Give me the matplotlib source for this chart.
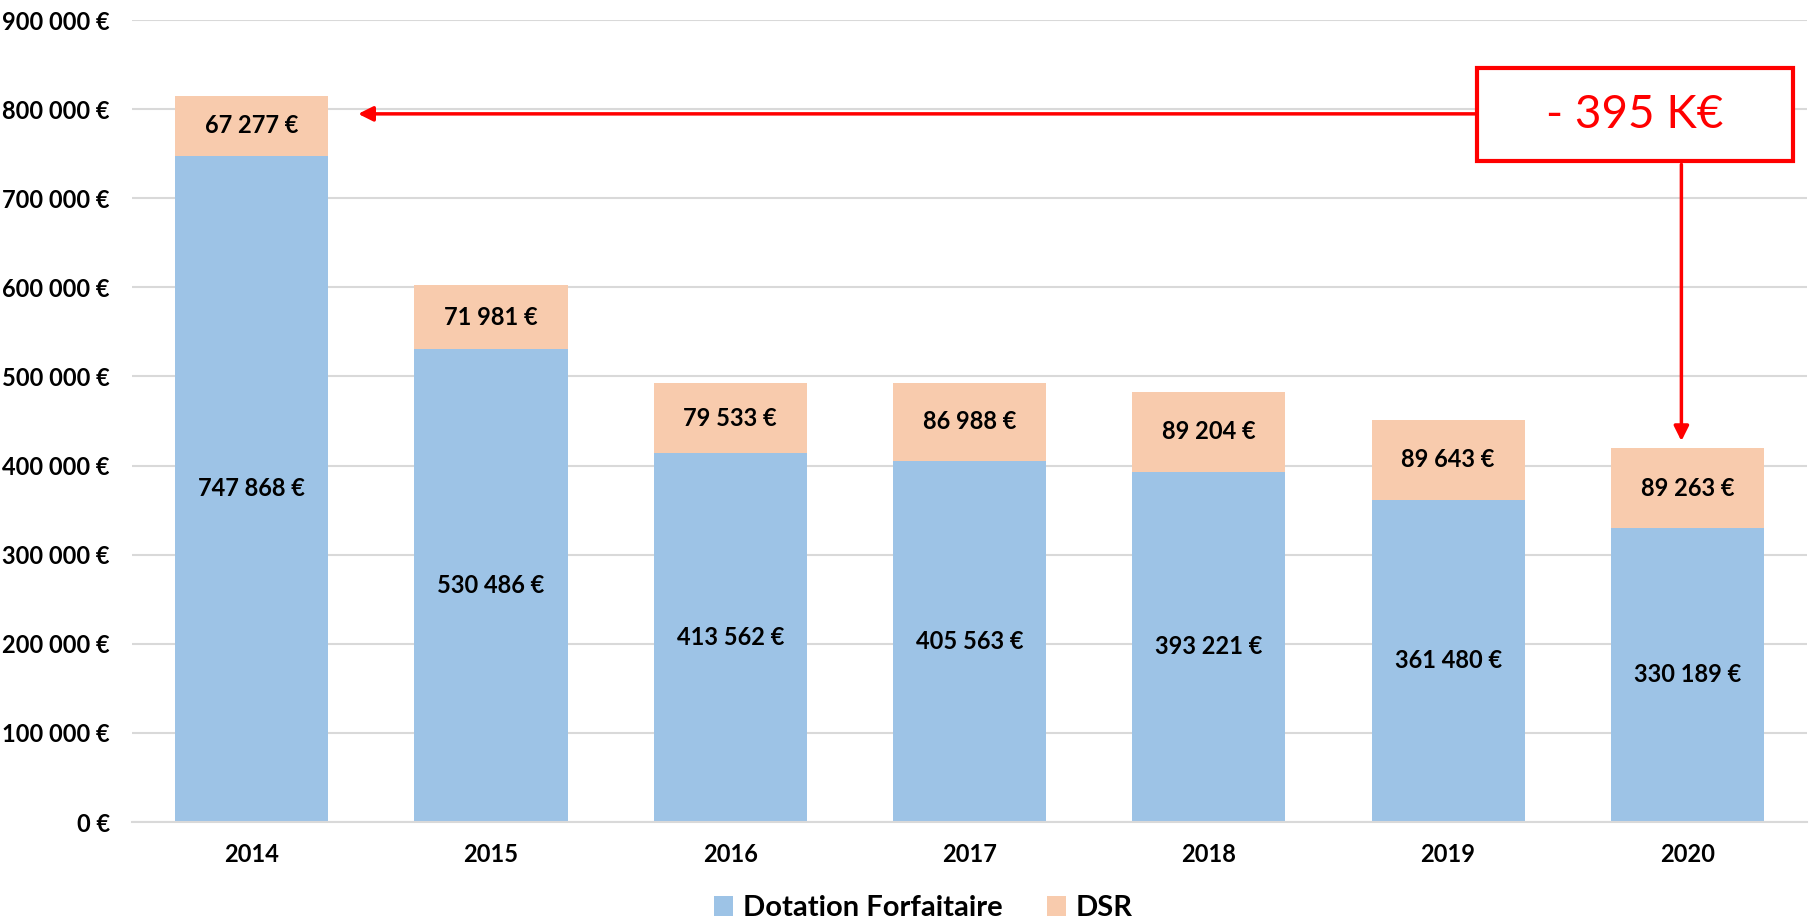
import matplotlib
matplotlib.use("Agg")
import matplotlib.pyplot as plt
import matplotlib.patches as mpatches
from matplotlib.ticker import FuncFormatter, MultipleLocator

# data
years = ["2014", "2015", "2016", "2017", "2018", "2019", "2020"]
dotation = [747868, 530486, 413562, 405563, 393221, 361480, 330189]
dsr = [67277, 71981, 79533, 86988, 89204, 89643, 89263]
delta_label = "- 395 K€"

BLUE = "#9DC3E6"
PEACH = "#F8CBAD"
RED = "#FF0000"
GRID = "#D9D9D9"

plt.rcParams["font.family"] = ["Lato", "DejaVu Sans"]


def euro(v):
    return f"{int(v):,}".replace(",", " ") + " €"


fig = plt.figure(figsize=(18.11, 9.23), dpi=100)
ax = fig.add_axes([0.0729, 0.1094, 0.9249, 0.8689])

x = range(len(years))
b1 = ax.bar(x, dotation, width=0.64, color=BLUE, label="Dotation Forfaitaire", zorder=2)
b2 = ax.bar(x, dsr, width=0.64, bottom=dotation, color=PEACH, label="DSR", zorder=2)

ax.bar_label(b1, labels=[euro(v) for v in dotation], label_type="center",
             fontsize=17, fontweight="bold", color="black")
ax.bar_label(b2, labels=[euro(v) for v in dsr], label_type="center",
             fontsize=17, fontweight="bold", color="black")

ax.set_xlim(-0.5, len(years) - 0.5)
ax.set_ylim(0, 900000)
ax.yaxis.set_major_locator(MultipleLocator(100000))
ax.yaxis.set_major_formatter(FuncFormatter(lambda v, p: euro(v)))
ax.set_xticks(list(x))
ax.set_xticklabels(years)
ax.grid(axis="y", color=GRID, linewidth=1.5, zorder=0)
for s in ["top", "right", "left"]:
    ax.spines[s].set_visible(False)
ax.spines["bottom"].set_color(GRID)
ax.spines["bottom"].set_linewidth(1.5)
ax.tick_params(length=0, labelsize=17)
ax.tick_params(axis="x", pad=15)
ax.tick_params(axis="y", pad=16)
for lbl in ax.get_xticklabels() + ax.get_yticklabels():
    lbl.set_fontweight("bold")

# annotation box and arrows
box = mpatches.Rectangle((0.803, 0.824), 0.1886, 0.116, transform=ax.transAxes,
                         facecolor="white", edgecolor=RED, linewidth=3, zorder=5,
                         clip_on=False)
ax.add_patch(box)
ax.text(0.897, 0.882, delta_label, transform=ax.transAxes, ha="center", va="center",
        fontsize=33, color=RED, zorder=6)
ax.annotate("", xy=(0.135, 0.883), xytext=(0.803, 0.883), xycoords="axes fraction",
            arrowprops=dict(arrowstyle="-|>", color=RED, lw=2.5, mutation_scale=22,
                            shrinkA=0, shrinkB=0), zorder=4)
ax.annotate("", xy=(0.925, 0.475), xytext=(0.925, 0.82), xycoords="axes fraction",
            arrowprops=dict(arrowstyle="-|>", color=RED, lw=2.5, mutation_scale=22,
                            shrinkA=0, shrinkB=0), zorder=4)

fig.legend(handles=[b1, b2], loc="center", bbox_to_anchor=(0.51, 0.016), ncol=2,
           frameon=False, prop={"size": 21, "weight": "bold"}, handlelength=0.65,
           handleheight=0.65, handletextpad=0.35, columnspacing=1.5)

fig.savefig("out.png", dpi=100)
